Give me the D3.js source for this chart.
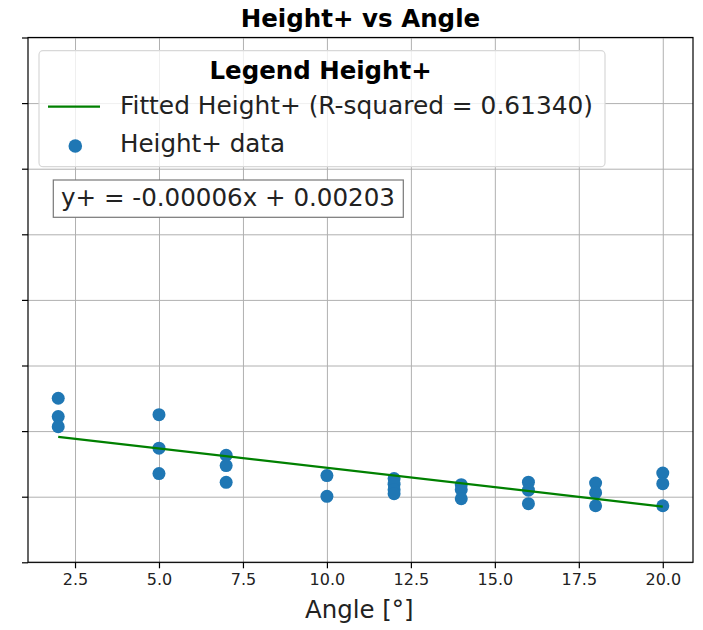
<!DOCTYPE html>
<html>
<head>
<meta charset="utf-8">
<script src="https://cdn.jsdelivr.net/npm/d3@7.9.0/dist/d3.min.js"></script>
<style>
  body { margin: 0; background: #fff; }
  svg { font-family: 'DejaVu Sans', sans-serif; display: block; }
  .grid line { stroke: #b0b0b0; stroke-width: 1; }
  .grid path { display: none; }
</style>
</head>
<body>
<div id="chart"></div>
<script>
// Angle [deg] of each measurement
const angles = [2, 2, 2, 5, 5, 5, 7, 7, 7, 10, 10, 12, 12, 12, 12, 14, 14, 14, 16, 16, 16, 18, 18, 18, 20, 20, 20];
// Height+ of each measurement
const heights = [
  0.002501, 0.002221, 0.002067,
  0.002251, 0.001740, 0.001352,
  0.001632, 0.001475, 0.001219,
  0.001322, 0.001005,
  0.001276, 0.001191, 0.001107, 0.001046,
  0.001184, 0.001107, 0.000969,
  0.001222, 0.001100, 0.000893,
  0.001207, 0.001061, 0.000862,
  0.001360, 0.001199, 0.000862
];
// fitted line
const fitSlope = -0.0000590;
const fitIntercept = 0.00203;
const fitRange = [2, 20];
const xTicks = [2.5, 5.0, 7.5, 10.0, 12.5, 15.0, 17.5, 20.0];
const yTicks = [0, 0.001, 0.002, 0.003, 0.004, 0.005, 0.006, 0.007, 0.008];

const width = 703, height = 630;
const plot = { left: 28, right: 693, top: 37.5, bottom: 562.3 };

const svg = d3.select('#chart').append('svg')
  .attr('width', width)
  .attr('height', height);

const x = d3.scaleLinear().domain([1.1, 20.9]).range([plot.left, plot.right]);
const y = d3.scaleLinear().domain([0, 0.008]).range([plot.bottom, plot.top]);

// helper: text stretched to the width it has in the picture
function label(g, txt, px, py, len, opts = {}) {
  return g.append('text')
    .attr('x', px).attr('y', py)
    .attr('font-size', opts.size || 24)
    .attr('font-weight', opts.bold ? 'bold' : null)
    .attr('fill', opts.bold ? '#000' : '#222')
    .attr('textLength', len)
    .attr('lengthAdjust', 'spacingAndGlyphs')
    .text(txt);
}

// gridlines
svg.append('g')
  .attr('class', 'grid')
  .attr('transform', `translate(0,${plot.bottom})`)
  .call(d3.axisBottom(x).tickValues(xTicks).tickFormat('').tickSize(-(plot.bottom - plot.top)));

svg.append('g')
  .attr('class', 'grid')
  .attr('transform', `translate(${plot.left},0)`)
  .call(d3.axisLeft(y).tickValues(yTicks).tickFormat('').tickSize(-(plot.right - plot.left)));

// scatter points
svg.append('g')
  .selectAll('circle')
  .data(angles.map((a, i) => ({ a, h: heights[i] })))
  .join('circle')
  .attr('cx', d => x(d.a))
  .attr('cy', d => y(d.h))
  .attr('r', 6.5)
  .attr('fill', '#1f77b4');

// fitted line
const line = d3.line().x(d => x(d)).y(d => y(fitSlope * d + fitIntercept));
svg.append('path')
  .datum(fitRange)
  .attr('d', line)
  .attr('fill', 'none')
  .attr('stroke', 'green')
  .attr('stroke-width', 2.2);

// frame
svg.append('rect')
  .attr('x', plot.left).attr('y', plot.top)
  .attr('width', plot.right - plot.left)
  .attr('height', plot.bottom - plot.top)
  .attr('fill', 'none')
  .attr('stroke', '#000')
  .attr('stroke-width', 1.2);

// axes
const xAxis = svg.append('g')
  .attr('transform', `translate(0,${plot.bottom})`)
  .call(d3.axisBottom(x).tickValues(xTicks).tickFormat(d3.format('.1f')).tickSize(6).tickPadding(5));
xAxis.select('.domain').remove();
xAxis.selectAll('line').attr('stroke', '#000').attr('stroke-width', 1.2);
xAxis.selectAll('text').attr('font-size', 16).attr('fill', '#222').attr('font-family', 'DejaVu Sans');

const yAxis = svg.append('g')
  .attr('transform', `translate(${plot.left},0)`)
  .call(d3.axisLeft(y).tickValues(yTicks).tickFormat('').tickSize(6));
yAxis.select('.domain').remove();
yAxis.selectAll('line').attr('stroke', '#000').attr('stroke-width', 1.2);

// title and axis label
label(svg, 'Height+ vs Angle', 240.7, 26.5, 239.5, { bold: true });
label(svg, 'Angle [°]', 305, 618, 108.5);

// legend
const legend = svg.append('g');
legend.append('rect')
  .attr('x', 39).attr('y', 50.7)
  .attr('width', 566).attr('height', 116)
  .attr('rx', 4)
  .attr('fill', 'rgba(255,255,255,0.8)')
  .attr('stroke', '#d8d8d8')
  .attr('stroke-width', 1.2);
label(legend, 'Legend Height+', 209.5, 79.3, 222.2, { bold: true });
legend.append('line')
  .attr('x1', 48).attr('x2', 100)
  .attr('y1', 106.7).attr('y2', 106.7)
  .attr('stroke', 'green')
  .attr('stroke-width', 2.2);
label(legend, 'Fitted Height+ (R-squared = 0.61340)', 120, 114.3, 473);
legend.append('circle')
  .attr('cx', 75.3).attr('cy', 146)
  .attr('r', 6.8)
  .attr('fill', '#1f77b4');
label(legend, 'Height+ data', 120, 151.7, 165);

// equation box
svg.append('rect')
  .attr('x', 53.3).attr('y', 180)
  .attr('width', 350).attr('height', 37.3)
  .attr('fill', '#fff')
  .attr('stroke', '#777')
  .attr('stroke-width', 1.2);
label(svg, 'y+ = -0.00006x + 0.00203', 61, 205.5, 334);
</script>
</body>
</html>
